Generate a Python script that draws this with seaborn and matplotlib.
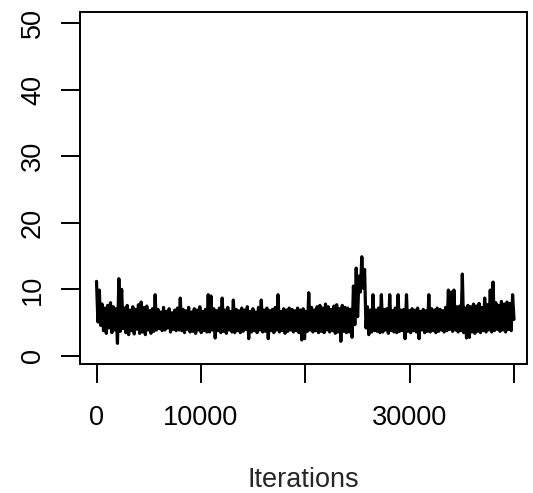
import numpy as np
import pandas as pd
import matplotlib
matplotlib.use("Agg")
import matplotlib.pyplot as plt
import seaborn as sns

# trace values, in chunks of ~2700 iterations
trace = [
    11.2, 5.1, 9.9, 4.6, 7.8, 3.8, 7.2, 3.4, 7.6, 4.2, 8.0, 3.5, 7.4, 3.9, 7.1, 1.9, 11.6, 3.7, 10.0, 4.1,
    7.2, 3.5, 7.6, 3.2, 6.9, 3.8, 7.4, 3.3, 7.0, 4.0, 7.7, 3.4, 8.1, 3.6, 7.3, 3.2, 7.5, 3.9, 6.8, 3.4,
    7.1, 3.7, 9.2, 3.9, 7.0, 4.1, 6.6, 3.8, 7.3, 3.9, 6.7, 4.2, 7.1, 3.6, 6.5, 4.0, 6.9, 3.8, 7.2, 3.9,
    8.7, 3.8, 7.0, 3.5, 6.8, 4.0, 7.3, 3.6, 6.6, 3.7, 7.1, 3.4, 6.9, 3.9, 7.4, 3.5, 6.7, 3.8, 7.0, 3.6,
    9.2, 3.6, 9.0, 3.9, 7.1, 2.7, 6.8, 3.8, 7.2, 3.5, 8.7, 3.7, 6.9, 3.4, 7.3, 3.9, 6.7, 3.6, 8.4, 3.5,
    7.0, 3.8, 6.8, 3.5, 7.2, 3.7, 6.9, 4.0, 7.4, 2.6, 6.7, 3.6, 7.1, 3.8, 6.6, 3.5, 7.3, 3.9, 8.4, 3.6,
    6.9, 3.7, 7.2, 2.6, 6.8, 3.8, 7.0, 3.5, 7.3, 3.9, 9.2, 3.6, 6.7, 3.8, 7.1, 3.4, 6.9, 3.7, 7.2, 3.9,
    7.0, 3.6, 6.8, 3.8, 7.2, 3.5, 6.9, 2.4, 7.1, 2.6, 6.7, 3.7, 9.5, 3.9, 7.3, 3.6, 6.9, 3.8, 7.4, 3.5,
    7.6, 3.7, 7.2, 3.5, 7.8, 3.9, 7.4, 3.6, 7.0, 3.8, 7.5, 3.4, 7.7, 3.6, 7.1, 2.2, 7.6, 3.7, 7.3, 3.5,
    7.2, 3.6, 7.0, 2.8, 10.5, 4.7, 13.2, 5.9, 12.0, 9.6, 14.9, 10.2, 13.0, 4.2, 7.4, 3.2, 6.9, 3.6, 9.2, 3.8,
    6.9, 3.7, 7.2, 3.5, 9.2, 3.6, 7.0, 3.9, 7.1, 3.4, 9.2, 3.8, 6.8, 3.6, 7.2, 3.5, 9.2, 3.7, 6.9, 3.8,
    7.0, 2.6, 9.2, 3.7, 6.8, 3.5, 7.1, 3.8, 6.9, 3.6, 7.2, 2.6, 6.7, 3.9, 7.0, 3.5, 6.8, 3.7, 9.2, 3.6,
    7.1, 3.8, 6.9, 3.5, 7.2, 3.7, 7.0, 3.9, 6.8, 3.6, 7.3, 3.8, 9.9, 4.0, 9.6, 3.7, 9.9, 3.9, 7.4, 3.6,
    7.5, 3.8, 12.3, 3.5, 7.2, 2.7, 7.6, 2.8, 7.4, 3.6, 7.8, 3.4, 7.5, 3.7, 7.9, 3.5, 7.3, 3.8, 8.7, 3.6,
    7.7, 3.9, 9.9, 3.6, 11.1, 3.8, 8.0, 4.0, 7.6, 3.7, 8.2, 3.9, 7.8, 3.6, 8.1, 4.0, 7.9, 3.8, 9.2, 5.5,
]
last_iter = 40000
xticks = [0, 10000, 20000, 30000, 40000]
xtick_labels = ["0", "10000", "", "30000", ""]
yticks = [0, 10, 20, 30, 40, 50]

df = pd.DataFrame({"iter": np.linspace(0, last_iter, len(trace)), "value": trace})

sns.set_style("ticks")
plt.rcParams["font.family"] = ["Liberation Sans", "DejaVu Sans"]

fig = plt.figure(figsize=(5.33, 4.93), dpi=100)
ax = fig.add_axes([0.1501, 0.2617, 0.8381, 0.7133])

sns.lineplot(data=df, x="iter", y="value", color="black", linewidth=2.3,
             estimator=None, sort=False, ax=ax)

ax.set_xlim(-1582, 41218)
ax.set_ylim(-1.2, 51.6)
ax.set_xticks(xticks)
ax.set_xticklabels(xtick_labels)
ax.set_yticks(yticks)
ax.set_yticklabels([str(t) for t in yticks])

for s in ax.spines.values():
    s.set_visible(True)
    s.set_linewidth(1.4)
    s.set_color("black")

ax.tick_params(axis="both", direction="out", length=13.5, width=1.4,
               color="black", labelsize=19.5, labelcolor="black")
ax.tick_params(axis="x", pad=16)
ax.tick_params(axis="y", pad=11, labelrotation=90)
for lab in ax.get_yticklabels():
    lab.set_va("center")

ax.set_xlabel("Iterations", fontsize=19.5, labelpad=26)
ax.set_ylabel("")

fig.savefig("out.png", dpi=100)
